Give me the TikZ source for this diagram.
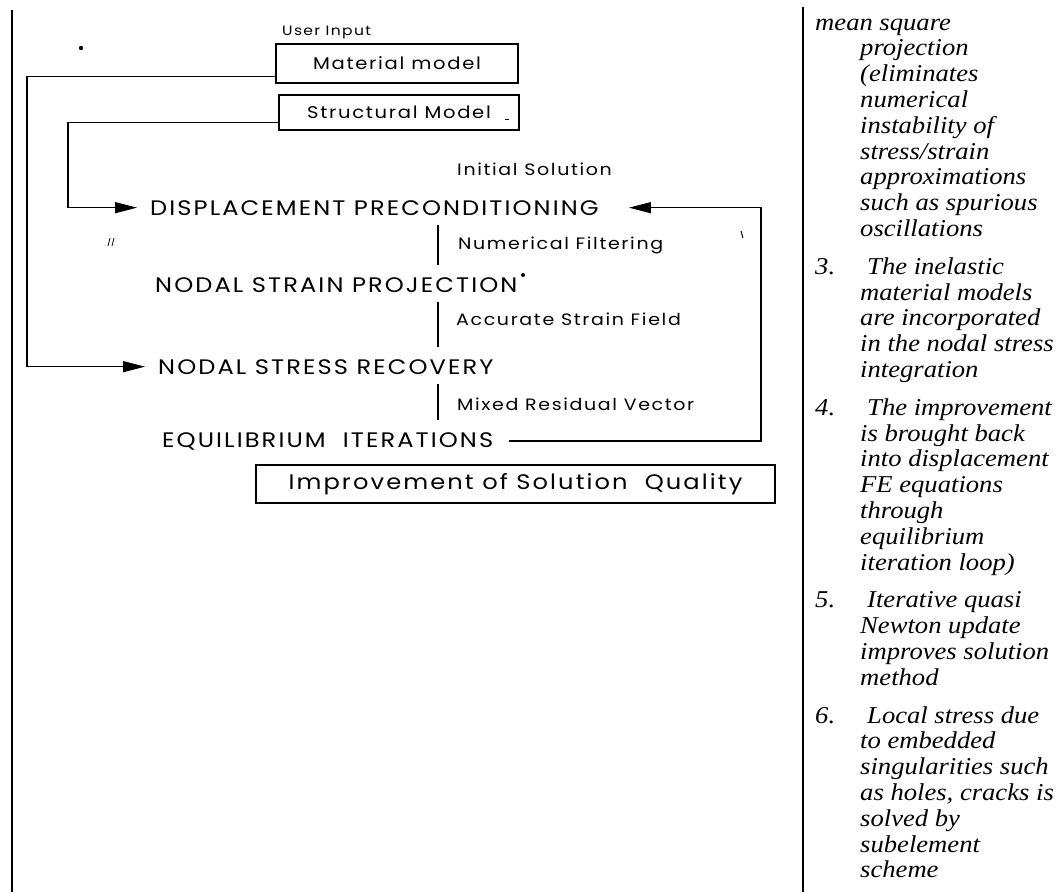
\documentclass[tikz,border=0pt]{standalone}
\usepackage{fontspec}
\setmainfont{Liberation Serif}
\newfontfamily\notefont{Liberation Serif}[FakeStretch=1.1]
\newfontfamily\gothic{Poppins}[FakeStretch=1.15,LetterSpace=10]
\usetikzlibrary{arrows.meta,positioning}

\tikzset{
  stage/.style={inner sep=0pt,anchor=base west,font=\gothic\fontsize{21}{24}\selectfont},
  sidenote/.style={inner sep=0pt,anchor=base west,font=\gothic\fontsize{16.5}{20}\selectfont},
  inbox/.style={draw,line width=1.1pt,inner sep=0pt,font=\gothic\fontsize{17}{20}\selectfont},
  flow/.style={line width=1.2pt,-{Triangle[length=22pt,width=11pt]}},
  link/.style={line width=1.2pt},
  remark/.style={inner sep=0pt,anchor=base west,font=\notefont\itshape\fontsize{24.2}{26}\selectfont},
  colrule/.style={line width=2.4pt}
}

\begin{document}
\begin{tikzpicture}[x=1pt,y=-1pt]
\useasboundingbox (0,0) rectangle (1057,892);

% column rules
\draw[colrule] (12,10) -- (12,892);
\draw[colrule] (803,7) -- (803,892);

% input boxes
\node[sidenote,font=\gothic\fontsize{13.5}{16}\selectfont] (user) at (282,35) {User Input};
\node[inbox,minimum width=242pt,minimum height=39pt] (mat) at (397,63.5) {Material model};
\node[inbox,minimum width=240pt,minimum height=35pt] (struct) at (399,112.5) {Structural Model};

% solution stages
\node[sidenote] (init) at (457,175) {Initial Solution};
\node[stage] (disp) at (150,215) {DISPLACEMENT PRECONDITIONING};
\node[sidenote] (filt) at (458,249) {Numerical Filtering};
\node[stage] (strain) at (155,292) {NODAL STRAIN PROJECTION};
\node[sidenote] (field) at (456,325) {Accurate Strain Field};
\node[stage] (stress) at (158,374) {NODAL STRESS RECOVERY};
\node[sidenote] (resid) at (457,410) {Mixed Residual Vector};
\node[stage] (equil) at (162,447) {EQUILIBRIUM\ \ ITERATIONS};
\node[inbox,minimum width=519pt,minimum height=38pt,font=\gothic\fontsize{21}{24}\selectfont] (qual) at (515.5,484) {Improvement of Solution\ \ Quality};

% connectors
\coordinate (spine) at (438,0);
\coordinate (matx) at (27,0);
\coordinate (strx) at (68,0);
\coordinate (loopx) at (761,0);
\coordinate (matout) at ([yshift=7pt]mat.south west);
\coordinate (strout) at ([yshift=8pt]struct.south west);
\coordinate (loopin) at ([xshift=16pt]equil.east);

\draw[flow] (matout) -- (matout -| matx) |- ([xshift=-13pt]stress.west);
\draw[flow] (strout) -- (strout -| strx) |- ([xshift=-13pt]disp.west);
\draw[flow] (loopin) -- (loopin -| loopx) |- ([xshift=30pt]disp.east);
\foreach \a/\b in {disp/strain,strain/stress,stress/equil}
  \draw[link,shorten <=10pt,shorten >=12pt] (\a.south -| spine) -- (\b.north -| spine);

% specks of the scan
\fill (81,48) circle (2.2pt);
\fill (523,275) circle (2pt);
\draw[line width=0.8pt] (505,119) -- (509,119);
\draw[line width=0.8pt] (108,246) -- (110,238) (112,246) -- (114,238);
\draw[line width=1pt] (741,231) -- (743,238);

% notes column
\node[remark] (ms) at (815,30) {mean square};
\foreach \txt [count=\i] in {projection,{(eliminates},numerical,{instability of},stress/strain,approximations,{such as spurious},oscillations}
  \node[remark] at (860,30+25.8*\i) {\txt};

\node[remark] (n3) at (815,274.2) {3.};
\node[remark] at (867,274.2) {The inelastic};
\foreach \txt [count=\i] in {{material models},{are incorporated},{in the nodal stress},integration}
  \node[remark] at (860,274.2+25.8*\i) {\txt};

\node[remark] (n4) at (815,415.2) {4.};
\node[remark] at (867,415.2) {The improvement};
\foreach \txt [count=\i] in {{is brought back},{into displacement},{FE equations},through,equilibrium,{iteration loop)}}
  \node[remark] at (860,415.2+25.8*\i) {\txt};

\node[remark] (n5) at (815,607.8) {5.};
\node[remark] at (867,607.8) {Iterative quasi};
\foreach \txt [count=\i] in {{Newton update},{improves solution},method}
  \node[remark] at (860,607.8+25.8*\i) {\txt};

\node[remark] (n6) at (815,723) {6.};
\node[remark] at (867,723) {Local stress due};
\foreach \txt [count=\i] in {{to embedded},{singularities such},{as holes, cracks is},{solved by},subelement,scheme}
  \node[remark] at (860,723+25.8*\i) {\txt};
\end{tikzpicture}
\end{document}
